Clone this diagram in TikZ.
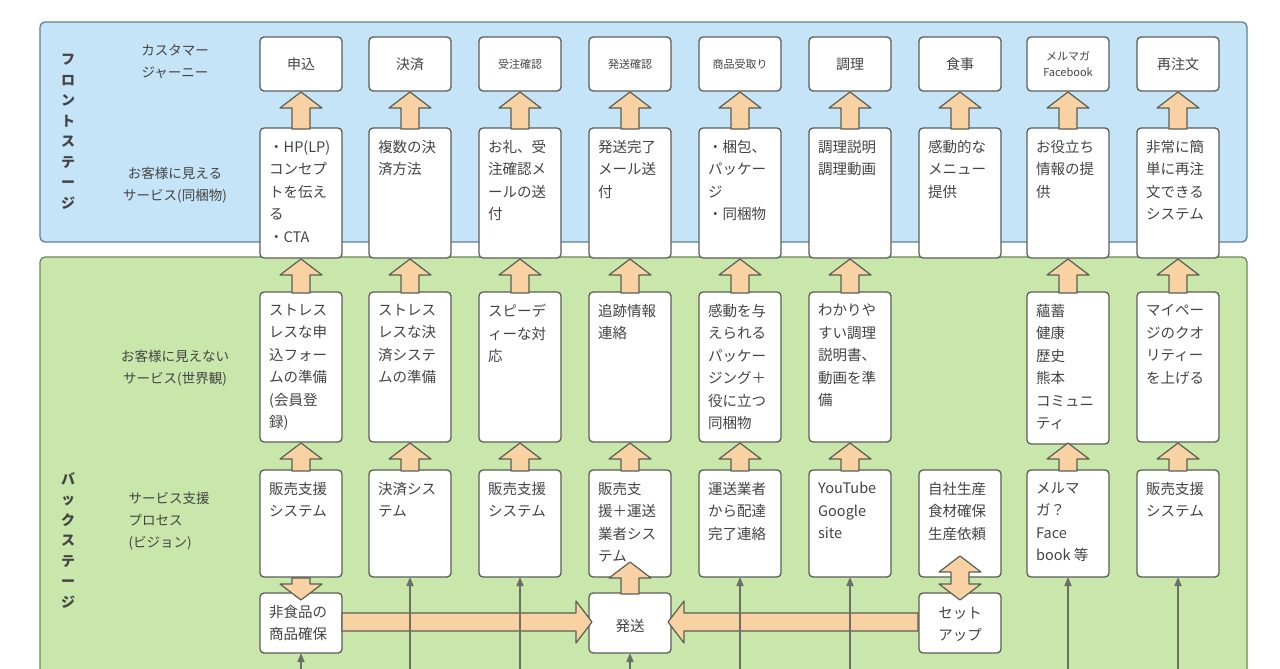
\documentclass[tikz,border=0pt]{standalone}
\usepackage{fontspec}
\setmainfont{Noto Sans CJK JP}
\usetikzlibrary{arrows.meta}
\definecolor{bluebg}{HTML}{C6E4F7}
\definecolor{blueln}{HTML}{5E7F93}
\definecolor{greenbg}{HTML}{C9E7AA}
\definecolor{greenln}{HTML}{6A8A5C}
\definecolor{arrfill}{HTML}{F9D2A3}
\definecolor{boxln}{HTML}{5A5F55}
\definecolor{txt}{HTML}{444444}
\tikzset{
  bx/.style={draw=boxln,fill=white,line width=1.3pt,rounded corners=4pt},
  blk/.style={draw=boxln,fill=arrfill,line width=1.2pt,line join=round},
  thin/.style={draw=boxln!90,line width=1.6pt,-{Triangle[length=9pt,width=7pt]}},
  lbl/.style={text=txt,font=\fontsize{13.5}{22}\selectfont,align=center},
  bt/.style={text=txt,font=\fontsize{14.5}{22.5}\selectfont,align=left,anchor=north west,inner sep=0pt}
}
\newcommand\arrup[3]{\path[blk] ({#1-9},#2) -- ({#1-9},{#3+16}) -- ({#1-21},{#3+16}) -- (#1,#3) -- ({#1+21},{#3+16}) -- ({#1+9},{#3+16}) -- ({#1+9},#2) -- cycle;}
\newcommand\arrdn[3]{\path[blk] ({#1-9},#2) -- ({#1-9},{#3-16}) -- ({#1-21},{#3-16}) -- (#1,#3) -- ({#1+21},{#3-16}) -- ({#1+9},{#3-16}) -- ({#1+9},#2) -- cycle;}
\newcommand\arrrt[3]{\path[blk] (#2,{#1-9}) -- ({#3-16},{#1-9}) -- ({#3-16},{#1-21}) -- (#3,#1) -- ({#3-16},{#1+21}) -- ({#3-16},{#1+9}) -- (#2,{#1+9}) -- cycle;}
\newcommand\arrlt[3]{\path[blk] (#2,{#1-9}) -- ({#3+16},{#1-9}) -- ({#3+16},{#1-21}) -- (#3,#1) -- ({#3+16},{#1+21}) -- ({#3+16},{#1+9}) -- (#2,{#1+9}) -- cycle;}
\newcommand\arrud[3]{\path[blk] ({#1-9},{#2+16}) -- ({#1-21},{#2+16}) -- (#1,#2) -- ({#1+21},{#2+16}) -- ({#1+9},{#2+16}) -- ({#1+9},{#3-16}) -- ({#1+21},{#3-16}) -- (#1,#3) -- ({#1-21},{#3-16}) -- ({#1-9},{#3-16}) -- cycle;}
\newcommand\bxx[5]{\path[bx] ({#2-41},#3) rectangle ({#2+41},#4); \coordinate (#1) at (#2,#4); \node[bt] at ({#2-32},{#3+12}) {#5};}
\begin{document}
\begin{tikzpicture}[x=1pt,y=-1pt]
\useasboundingbox (0,0) rectangle (1280,669);
\fill[white] (0,0) rectangle (1280,669);
\path[fill=bluebg,draw=blueln,line width=1.3pt,rounded corners=5pt] (40,22) rectangle (1247,242);
\path[fill=greenbg,draw=greenln,line width=1.3pt,rounded corners=5pt] (40,257) rectangle (1247,700);
\node[lbl,font=\bfseries\fontsize{14}{20.5}\selectfont] (fs) at (68,132) {フ\\ロ\\ン\\ト\\ス\\テ\\ー\\ジ};
\node[lbl,font=\bfseries\fontsize{14}{20.5}\selectfont] (bs) at (68,540) {バ\\ッ\\ク\\ス\\テ\\ー\\ジ};
\node[lbl] (l1) at (175,62) {カスタマー\\ジャーニー};
\node[lbl] (l2) at (175,185) {お客様に見える\\サービス(同梱物)};
\node[lbl] (l3) at (175,368) {お客様に見えない\\サービス(世界観)};
\node[lbl,align=left,anchor=west] (l4) at (125,521) {サービス支援\\プロセス\\(ビジョン)};
\foreach \x/\t/\s in {301/申込/14,410/決済/14,520/受注確認/11,630/発送確認/11,740/商品受取り/11,850/調理/14,960/食事/14,1178/再注文/14}{
  \path[bx] ({\x-41},37) rectangle ({\x+41},91);
  \node[text=txt,font=\fontsize{\s}{14}\selectfont] at (\x,64) {\t};
}
\path[bx] (1027,37) rectangle (1109,91);
\node[text=txt,font=\fontsize{11}{16}\selectfont,align=center] (mm) at (1068,64) {メルマガ\\Facebook};
\bxx{a1}{301}{128}{258}{・HP(LP)\\コンセプ\\トを伝え\\る\\・CTA}
\bxx{a2}{410}{128}{258}{複数の決\\済方法}
\bxx{a3}{520}{128}{258}{お礼、受\\注確認メ\\ールの送\\付}
\bxx{a4}{630}{128}{258}{発送完了\\メール送\\付}
\bxx{a5}{740}{128}{258}{・梱包、\\パッケー\\ジ\\・同梱物}
\bxx{a6}{850}{128}{258}{調理説明\\調理動画}
\bxx{a7}{960}{128}{258}{感動的な\\メニュー\\提供}
\bxx{a8}{1068}{128}{258}{お役立ち\\情報の提\\供}
\bxx{a9}{1178}{128}{258}{非常に簡\\単に再注\\文できる\\システム}
\bxx{b1}{301}{292}{442}{ストレス\\レスな申\\込フォー\\ムの準備\\(会員登\\録)}
\bxx{b2}{410}{292}{442}{ストレス\\レスな決\\済システ\\ムの準備}
\bxx{b3}{520}{292}{442}{スピーデ\\ィーな対\\応}
\bxx{b4}{630}{292}{442}{追跡情報\\連絡}
\bxx{b5}{740}{292}{442}{感動を与\\えられる\\パッケー\\ジング＋\\役に立つ\\同梱物}
\bxx{b6}{850}{292}{442}{わかりや\\すい調理\\説明書、\\動画を準\\備}
\bxx{b8}{1068}{292}{444}{蘊蓄\\健康\\歴史\\熊本\\コミュニ\\ティ}
\bxx{b9}{1178}{292}{442}{マイペー\\ジのクオ\\リティー\\を上げる}
\bxx{c1}{301}{470}{577}{販売支援\\システム}
\bxx{c2}{410}{470}{577}{決済シス\\テム}
\bxx{c3}{520}{470}{577}{販売支援\\システム}
\bxx{c4}{630}{470}{577}{販売支\\援＋運送\\業者シス\\テム}
\bxx{c5}{740}{470}{577}{運送業者\\から配達\\完了連絡}
\bxx{c6}{850}{470}{577}{YouTube\\Google\\site}
\bxx{c7}{960}{470}{577}{自社生産\\食材確保\\生産依頼}
\bxx{c8}{1068}{470}{577}{メルマ\\ガ？\\Face\\book 等}
\bxx{c9}{1178}{470}{577}{販売支援\\システム}
\bxx{d1}{301}{593}{653}{非食品の\\商品確保}
\path[bx] (589,593) rectangle (671,653); \coordinate (d4) at (630,653);
\node[text=txt,font=\fontsize{14.5}{22}\selectfont] (ship) at (630,626) {発送};
\path[bx] (919,593) rectangle (1001,653); \coordinate (d7) at (960,653);
\node[text=txt,font=\fontsize{14.5}{22}\selectfont,align=center] (setup) at (960,624) {セット\\アップ};
\foreach \x in {301,410,520,630,740,850,960,1068,1178}{\arrup{\x}{129}{92}}
\foreach \x in {301,410,520,630,740,850,1068,1178}{\arrup{\x}{293}{259}}
\foreach \x in {301,410,520,630,740,850,1068,1178}{\arrup{\x}{471}{443}}
\arrdn{301}{578}{600}
\arrup{630}{594}{562}
\arrud{960}{556}{600}
\arrrt{622}{342}{592}
\arrlt{622}{918}{668}
\foreach \n in {c2,c3,c5,c6,c8,c9}{\draw[thin] (\n |- 0,680) -- (\n);}
\foreach \n in {d1,d4}{\draw[thin] (\n |- 0,680) -- (\n);}
\end{tikzpicture}
\end{document}
